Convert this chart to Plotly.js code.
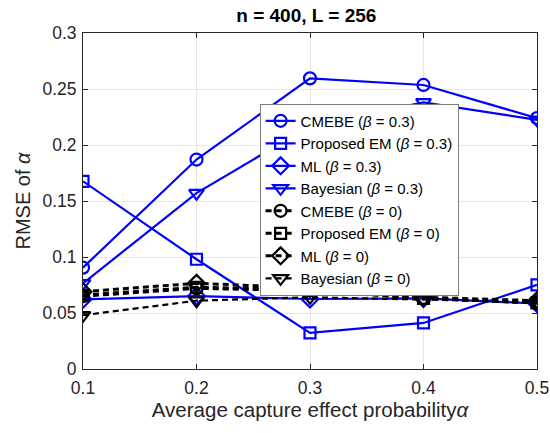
<!DOCTYPE html>
<html>
<head>
<meta charset="utf-8">
<script src="https://cdn.plot.ly/plotly-3.0.1.min.js"></script>
<style>html,body{margin:0;padding:0;background:#fff;}#chart{width:550px;height:433px;}</style>
</head>
<body>
<div id="chart"></div>
<script>
var alphaVals = [0.1, 0.2, 0.3, 0.4, 0.5];

var cmebe03 = [0.0905, 0.187, 0.2595, 0.2536, 0.224];
var em03 = [0.1676, 0.098, 0.0322, 0.0411, 0.0752];
var ml03 = [0.0622, 0.065, 0.0625, 0.063, 0.0585];
var bayes03 = [0.0765, 0.157, 0.217, 0.238, 0.2225];

var cmebe0 = [0.065, 0.072, 0.070, 0.063, 0.059];
var em0 = [0.066, 0.073, 0.071, 0.063, 0.059];
var ml0 = [0.069, 0.0765, 0.0725, 0.064, 0.061];
var bayes0 = [0.048, 0.061, 0.064, 0.062, 0.060];

var names = [
  'CMEBE (<i>β</i> = 0.3)', 'Proposed EM (<i>β</i> = 0.3)', 'ML (<i>β</i> = 0.3)', 'Bayesian (<i>β</i> = 0.3)',
  'CMEBE (<i>β</i> = 0)', 'Proposed EM (<i>β</i> = 0)', 'ML (<i>β</i> = 0)', 'Bayesian (<i>β</i> = 0)'
];
var series = [cmebe03, em03, ml03, bayes03, cmebe0, em0, ml0, bayes0];
var symbols = ['circle-open', 'square-open', 'diamond-open', 'triangle-down-open'];
var sizes = [12, 11, 13, 13];

var traces = series.map(function (ys, i) {
  var blue = i < 4;
  var col = blue ? '#0000ff' : '#000000';
  var k = i % 4;
  return {
    x: alphaVals, y: ys, name: names[i], type: 'scatter', mode: 'lines+markers',
    line: {color: col, width: blue ? 2.2 : (k === 3 ? 2.2 : 3), dash: blue ? 'solid' : '6px,4px'},
    marker: {symbol: symbols[k], size: sizes[k], color: col, line: {color: col, width: 2.2}}
  };
});

var layout = {
  width: 550, height: 433,
  margin: {l: 83, r: 13, t: 33, b: 64},
  paper_bgcolor: '#ffffff', plot_bgcolor: '#ffffff',
  font: {family: 'Liberation Sans, Arial, sans-serif', size: 16, color: '#262626'},
  title: {text: '<b>n = 400, L = 256</b>', x: 0.557, xanchor: 'center', y: 0.965, yanchor: 'middle',
          font: {size: 19, color: '#000000'}},
  xaxis: {
    range: [0.1, 0.5], tickvals: alphaVals, ticktext: ['0.1', '0.2', '0.3', '0.4', '0.5'],
    showgrid: true, gridcolor: '#e6e6e6', gridwidth: 1, zeroline: false,
    showline: true, linecolor: '#262626', linewidth: 1, mirror: 'ticks',
    ticks: 'inside', ticklen: 5, tickcolor: '#262626', ticklabelstandoff: 3,
    tickfont: {size: 17.5, color: '#262626'},
    title: {text: 'Average capture effect probability<i>α</i>', font: {size: 20.5, color: '#262626'}, standoff: 4}
  },
  yaxis: {
    range: [0, 0.3], dtick: 0.05, tick0: 0,
    showgrid: true, gridcolor: '#e6e6e6', gridwidth: 1, zeroline: false,
    showline: true, linecolor: '#262626', linewidth: 1, mirror: 'ticks',
    ticks: 'inside', ticklen: 5, tickcolor: '#262626', ticklabelstandoff: 2,
    tickfont: {size: 17.5, color: '#262626'},
    title: {text: 'RMSE of <i>α</i>', font: {size: 20, color: '#262626'}, standoff: 6}
  },
  legend: {
    x: 0.389, y: 0.79, xanchor: 'left', yanchor: 'top',
    bgcolor: '#ffffff', bordercolor: '#7f7f7f', borderwidth: 1,
    font: {size: 15, color: '#000000'}, tracegroupgap: 0, itemwidth: 30
  },
  showlegend: true
};

Plotly.newPlot('chart', traces, layout, {displayModeBar: false, staticPlot: true});
</script>
</body>
</html>
